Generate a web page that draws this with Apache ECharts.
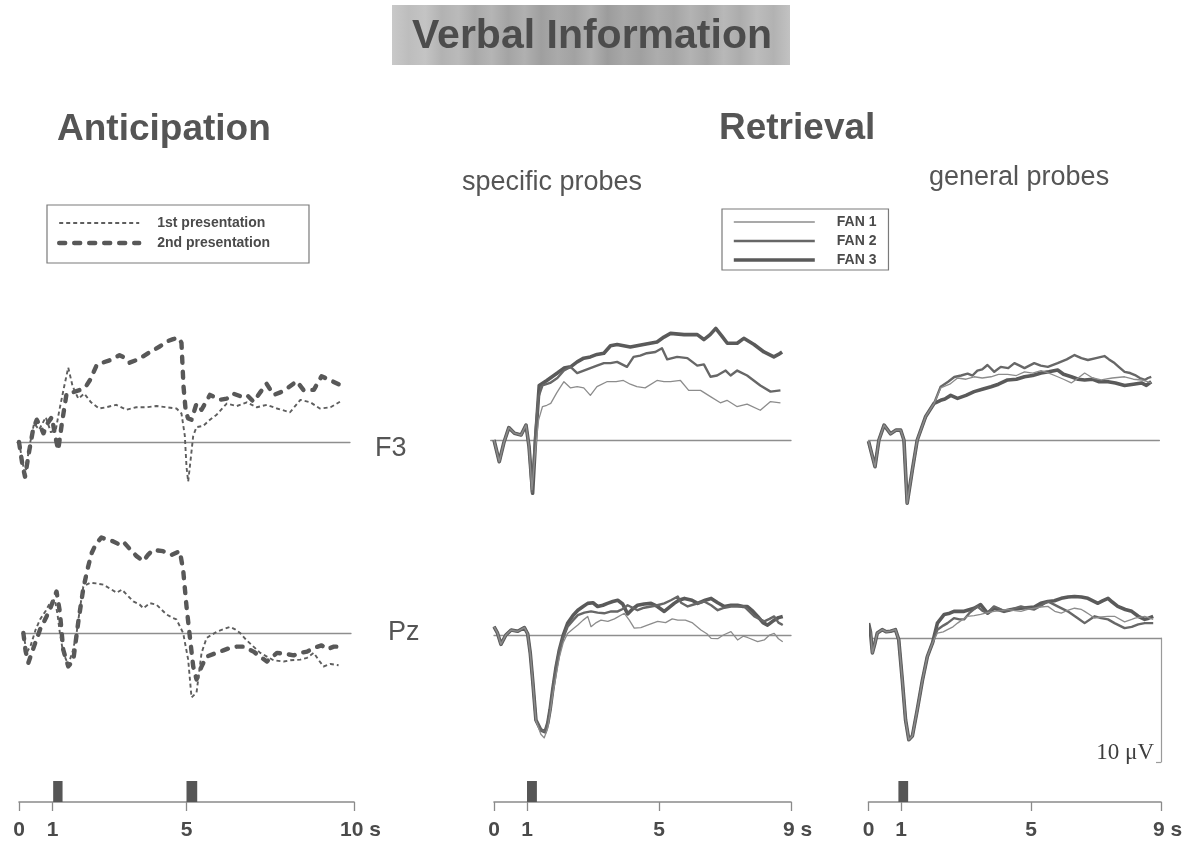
<!DOCTYPE html>
<html>
<head>
<meta charset="utf-8">
<title>Verbal Information</title>
<script src="https://cdn.jsdelivr.net/npm/echarts@6/dist/echarts.min.js"></script>
<style>
  html, body { margin: 0; padding: 0; background: #ffffff; }
  #chart { width: 1191px; height: 844px; }
</style>
</head>
<body>
<div id="chart"></div>
<script>
// ---- Waveforms: [time in s, amplitude in µV] (negative plotted upward) ----

// Anticipation, F3
const antF3First = [[0,0],[0.1,1.5],[0.18,2.8],[0.3,0.5],[0.45,-1.5],[0.6,-1.0],[0.8,-2.0],[0.95,-0.8],[1.1,-1.0],[1.2,-2.5],[1.35,-4.5],[1.47,-6.0],[1.6,-4.5],[1.77,-3.5],[1.95,-3.9],[2.15,-3.2],[2.39,-2.7],[2.6,-2.8],[2.9,-3.0],[3.2,-2.6],[3.5,-2.8],[3.8,-2.8],[4.1,-2.9],[4.4,-2.8],[4.7,-2.7],[4.85,-2.3],[4.95,-0.5],[5.0,2.0],[5.05,3.2],[5.12,1.5],[5.2,-0.5],[5.3,-1.2],[5.5,-1.3],[5.7,-1.8],[5.9,-2.2],[6.2,-3.1],[6.5,-2.9],[6.8,-3.2],[7.1,-2.8],[7.4,-3.0],[7.7,-2.7],[8.09,-2.4],[8.4,-3.4],[8.7,-3.2],[8.98,-2.7],[9.3,-2.8],[9.58,-3.25]];
const antF3Second = [[0,0],[0.1,1.8],[0.18,2.8],[0.3,0.8],[0.42,-1.0],[0.53,-1.8],[0.65,-1.2],[0.73,-0.7],[0.85,-1.5],[0.98,-2.0],[1.08,-0.5],[1.17,0.65],[1.28,-1.5],[1.42,-3.9],[1.6,-4.0],[1.82,-4.2],[2.0,-4.5],[2.12,-5.0],[2.32,-6.2],[2.5,-6.4],[2.72,-6.6],[3.0,-7.0],[3.15,-6.8],[3.3,-6.4],[3.5,-6.6],[3.7,-6.9],[4.0,-7.4],[4.2,-7.7],[4.4,-8.1],[4.6,-8.3],[4.76,-8.4],[4.85,-8.0],[4.91,-4.5],[4.98,-2.4],[5.05,-1.9],[5.15,-1.8],[5.3,-3.1],[5.45,-2.6],[5.7,-3.8],[6.0,-3.4],[6.2,-3.5],[6.4,-3.9],[6.6,-3.7],[6.8,-3.8],[7.0,-3.25],[7.2,-4.0],[7.39,-4.7],[7.6,-3.8],[7.8,-4.0],[7.99,-4.3],[8.29,-4.9],[8.49,-4.2],[8.8,-4.2],[9.03,-5.3],[9.28,-5.0],[9.58,-4.6]];

// Anticipation, Pz
const antPzFirst = [[0.13,0],[0.23,1.6],[0.35,1.0],[0.5,-0.3],[0.63,-1.1],[0.8,-1.8],[0.92,-2.4],[1.07,-2.7],[1.15,-1.5],[1.22,0],[1.32,1.6],[1.47,2.55],[1.6,1.5],[1.72,0],[1.82,-2.0],[1.92,-3.75],[2.12,-4.05],[2.3,-4.0],[2.52,-3.9],[2.7,-3.6],[2.92,-3.25],[3.07,-3.5],[3.25,-3.0],[3.41,-2.55],[3.6,-2.3],[3.71,-2.0],[3.91,-2.4],[4.1,-2.3],[4.25,-1.9],[4.4,-1.5],[4.6,-1.2],[4.7,-1.1],[4.9,0],[5.05,2.15],[5.15,5.2],[5.3,4.8],[5.45,1.6],[5.6,0.4],[5.9,-0.1],[6.1,-0.3],[6.3,-0.5],[6.45,-0.3],[6.6,0],[6.8,0.6],[7.0,1.1],[7.2,1.6],[7.4,1.9],[7.6,2.2],[7.9,2.3],[8.1,2.2],[8.4,2.15],[8.6,2.0],[8.8,1.6],[8.95,2.2],[9.09,2.7],[9.3,2.5],[9.54,2.6]];
const antPzSecond = [[0.13,0],[0.2,1.5],[0.28,2.4],[0.42,1.3],[0.63,-0.3],[0.8,-1.2],[0.92,-1.9],[1.05,-2.8],[1.12,-3.35],[1.22,-1.7],[1.32,1.35],[1.47,2.7],[1.62,2.2],[1.77,-0.9],[1.92,-3.6],[2.05,-5.2],[2.17,-6.45],[2.3,-7.2],[2.46,-7.7],[2.65,-7.5],[2.8,-7.4],[2.95,-7.2],[3.1,-7.4],[3.3,-6.8],[3.51,-6.2],[3.71,-5.8],[3.85,-6.3],[4.0,-6.7],[4.3,-6.6],[4.55,-6.3],[4.8,-6.6],[4.9,-5.1],[5.0,-2.15],[5.1,0.3],[5.2,2.7],[5.3,3.75],[5.45,2.7],[5.6,1.9],[5.9,1.6],[6.1,1.4],[6.3,1.2],[6.5,1.1],[6.7,1.1],[7.0,1.5],[7.2,1.9],[7.4,2.3],[7.7,1.6],[7.99,1.7],[8.2,1.8],[8.4,1.6],[8.6,1.5],[8.8,1.2],[9.03,1.0],[9.2,1.3],[9.4,1.1],[9.54,1.1]];

// Retrieval, specific probes, F3
const specF3Onset = [[0,0],[0.16,1.75],[0.3,0.2],[0.45,-1.0],[0.62,-0.55],[0.82,-0.4],[0.97,-1.2],[1.06,0.5]];
const specF3Fan1 = [[1.15,4.0],[1.25,1.0],[1.35,-1.6],[1.47,-2.7],[1.6,-2.8],[1.72,-2.95],[1.9,-3.8],[2.02,-4.3],[2.12,-4.7],[2.32,-4.2],[2.52,-4.3],[2.72,-4.2],[2.92,-3.6],[3.12,-4.3],[3.42,-4.7],[3.7,-4.7],[3.92,-4.8],[4.13,-4.5],[4.33,-4.3],[4.58,-4.2],[4.94,-4.8],[5.15,-4.7],[5.35,-4.7],[5.65,-4.8],[5.9,-4.0],[6.26,-4.0],[6.56,-3.5],[6.86,-3.0],[7.06,-3.2],[7.36,-2.7],[7.67,-2.9],[8.07,-2.4],[8.38,-3.1],[8.68,-3.0]];
const specF3Fan2 = [[1.15,4.2],[1.25,-0.5],[1.35,-3.5],[1.47,-4.4],[1.7,-4.6],[1.92,-5.0],[2.12,-5.6],[2.32,-5.9],[2.52,-5.4],[2.72,-5.6],[2.92,-5.8],[3.12,-6.0],[3.33,-6.2],[3.53,-6.2],[3.73,-6.3],[4.03,-5.9],[4.23,-6.7],[4.43,-6.8],[4.63,-7.0],[4.89,-7.1],[5.09,-7.4],[5.25,-6.5],[5.55,-6.7],[5.86,-6.6],[6.16,-6.0],[6.36,-6.1],[6.56,-5.1],[6.76,-5.2],[7.02,-5.6],[7.17,-5.2],[7.37,-5.6],[7.67,-5.2],[7.87,-4.8],[8.07,-4.4],[8.38,-3.9],[8.68,-4.0]];
const specF3Fan3 = [[1.17,4.3],[1.27,-0.5],[1.37,-4.4],[1.6,-4.8],[1.92,-5.4],[2.12,-5.8],[2.32,-5.9],[2.52,-6.3],[2.72,-6.6],[2.92,-6.7],[3.12,-6.9],[3.33,-7.0],[3.53,-7.6],[3.73,-7.7],[4.13,-7.5],[4.53,-7.7],[4.94,-7.9],[5.15,-8.3],[5.35,-8.6],[5.76,-8.5],[6.16,-8.5],[6.36,-8.1],[6.55,-8.5],[6.72,-9.0],[6.9,-8.4],[7.07,-7.8],[7.37,-7.8],[7.57,-8.2],[7.88,-7.7],[8.18,-7.1],[8.48,-6.7],[8.62,-6.9],[8.73,-7.1]];

// Retrieval, general probes, F3
const genF3Onset = [[0,0.1],[0.2,2.15],[0.32,0],[0.48,-1.2],[0.68,-0.5],[0.85,-0.8],[0.99,-0.8],[1.09,0],[1.19,5.1],[1.35,2.4],[1.5,0],[1.76,-1.9],[2.02,-2.96]];
const genF3Fan1 = [[2.22,-4.2],[2.5,-4.5],[2.74,-5.0],[3.0,-4.9],[3.25,-5.1],[3.5,-5.0],[3.77,-5.1],[4.0,-5.3],[4.28,-5.3],[4.55,-5.2],[4.8,-5.5],[5.05,-5.4],[5.31,-5.6],[5.55,-5.4],[5.82,-5.1],[6.0,-4.9],[6.24,-4.6],[6.45,-5.0],[6.65,-5.4],[6.9,-5.0],[7.16,-4.84],[7.5,-5.0],[7.88,-5.1],[8.15,-4.9],[8.4,-4.84],[8.7,-4.6]];
const genF3Fan2 = [[2.22,-4.3],[2.45,-4.7],[2.64,-5.08],[2.85,-5.2],[3.05,-5.35],[3.2,-5.2],[3.35,-5.6],[3.5,-5.7],[3.66,-6.05],[3.87,-5.5],[4.07,-5.9],[4.3,-5.8],[4.49,-6.2],[4.65,-6.0],[4.8,-5.8],[4.95,-6.0],[5.1,-6.2],[5.3,-6.0],[5.52,-5.9],[5.82,-6.2],[6.1,-6.5],[6.34,-6.85],[6.55,-6.6],[6.75,-6.45],[7.0,-6.6],[7.26,-6.77],[7.4,-6.5],[7.57,-6.2],[7.7,-5.9],[7.88,-5.5],[8.05,-5.4],[8.2,-5.24],[8.35,-5.0],[8.5,-4.84],[8.6,-5.0],[8.7,-5.1]];
const genF3Fan3 = [[2.22,-3.2],[2.35,-3.3],[2.53,-3.6],[2.74,-3.36],[3.0,-3.6],[3.25,-3.9],[3.5,-4.1],[3.77,-4.3],[4.0,-4.5],[4.28,-4.84],[4.55,-4.9],[4.8,-5.1],[5.05,-5.2],[5.31,-5.4],[5.55,-5.5],[5.82,-5.65],[6.0,-5.3],[6.24,-5.1],[6.45,-4.9],[6.65,-4.84],[6.9,-4.9],[7.1,-4.7],[7.37,-4.7],[7.6,-4.6],[7.88,-4.4],[8.15,-4.5],[8.4,-4.6],[8.55,-4.4],[8.7,-4.7]];

// Retrieval, specific probes, Pz
const specPzOnset = [[0,-0.67],[0.1,-0.2],[0.21,0.75],[0.36,0],[0.52,-0.4],[0.72,-0.3],[0.92,-0.6],[1.02,-0.1],[1.1,1.5],[1.17,3.6]];
const specPzFan1 = [[1.27,6.9],[1.42,8.0],[1.52,8.3],[1.63,7.5],[1.78,4.8],[1.98,1.8],[2.1,0.6],[2.23,-0.13],[2.4,-0.5],[2.54,-0.8],[2.7,-1.2],[2.84,-1.5],[2.94,-0.67],[3.1,-1.0],[3.24,-1.2],[3.45,-1.1],[3.65,-1.3],[3.95,-1.75],[4.1,-1.2],[4.25,-0.55],[4.45,-0.6],[4.65,-0.8],[4.96,-1.1],[5.2,-1.0],[5.4,-1.3],[5.57,-1.2],[5.8,-1.2],[6.0,-1.0],[6.27,-0.4],[6.45,-0.1],[6.58,0.27],[6.78,0.3],[6.95,0],[7.18,-0.27],[7.38,0.4],[7.55,0.1],[7.68,0.2],[7.99,0.54],[8.19,0.4],[8.35,0.0],[8.49,-0.13],[8.62,0.3],[8.75,0.54]];
const specPzFan2 = [[1.27,6.85],[1.42,7.66],[1.55,7.8],[1.63,7.1],[1.7,6.0],[1.78,4.4],[1.88,2.6],[1.98,1.2],[2.1,0.2],[2.23,-0.67],[2.4,-1.2],[2.54,-1.6],[2.74,-1.8],[2.94,-1.9],[3.14,-1.8],[3.34,-1.75],[3.55,-1.9],[3.75,-1.9],[3.9,-2.1],[4.05,-2.4],[4.2,-2.2],[4.35,-2.0],[4.55,-2.2],[4.76,-2.3],[4.95,-2.4],[5.16,-2.55],[5.36,-2.8],[5.57,-3.1],[5.67,-2.6],[5.87,-2.3],[6.1,-2.5],[6.37,-2.7],[6.58,-2.4],[6.78,-2.0],[6.98,-2.2],[7.18,-2.3],[7.38,-2.3],[7.58,-2.3],[7.89,-1.5],[8.19,-1.1],[8.35,-1.3],[8.49,-1.5],[8.62,-1.0],[8.75,-0.8]];
const specPzFan3 = [[1.27,6.85],[1.42,7.66],[1.55,7.8],[1.63,7.1],[1.7,6.0],[1.78,4.4],[1.88,2.6],[1.98,1.2],[2.1,0.0],[2.23,-0.94],[2.4,-1.6],[2.54,-2.0],[2.7,-2.3],[2.84,-2.55],[3.0,-2.6],[3.14,-2.3],[3.3,-2.4],[3.44,-2.55],[3.6,-2.7],[3.75,-2.8],[3.9,-2.5],[4.05,-1.7],[4.2,-2.1],[4.35,-2.4],[4.55,-2.5],[4.76,-2.55],[4.95,-2.3],[5.16,-1.9],[5.3,-2.2],[5.46,-2.55],[5.6,-2.8],[5.77,-2.95],[6.0,-2.8],[6.17,-2.55],[6.4,-2.8],[6.58,-2.95],[6.78,-2.6],[6.98,-2.3],[7.18,-2.4],[7.38,-2.4],[7.55,-2.3],[7.68,-2.3],[7.85,-1.9],[7.99,-1.5],[8.15,-1.0],[8.29,-0.8],[8.49,-1.2],[8.62,-1.4],[8.75,-1.5]];

// Retrieval, general probes, Pz
const genPzOnset = [[0,-1.2],[0.06,-0.5],[0.12,1.2],[0.2,0.4],[0.27,-0.4],[0.42,-0.67],[0.55,-0.5],[0.68,-0.55],[0.83,-0.67],[0.93,0.13],[1.04,3.4],[1.14,6.6],[1.24,8.2],[1.35,7.9],[1.5,5.8],[1.66,3.4],[1.81,1.5],[1.97,0.4]];
const genPzFan1 = [[2.12,-0.4],[2.3,-0.5],[2.43,-0.67],[2.6,-0.9],[2.74,-1.2],[2.9,-1.5],[3.04,-1.75],[3.25,-1.8],[3.45,-1.9],[3.6,-2.0],[3.86,-2.15],[4.1,-2.2],[4.27,-2.3],[4.5,-2.2],[4.69,-2.15],[4.9,-2.3],[5.1,-2.4],[5.3,-2.5],[5.52,-2.55],[5.73,-2.15],[5.93,-2.0],[6.1,-2.2],[6.34,-2.4],[6.55,-2.3],[6.65,-2.15],[6.8,-1.9],[6.96,-1.6],[7.16,-1.7],[7.37,-1.75],[7.57,-1.75],[7.88,-1.3],[8.1,-1.5],[8.2,-1.6],[8.5,-1.75],[8.76,-1.5]];
const genPzFan2 = [[2.12,-0.67],[2.3,-1.0],[2.43,-1.2],[2.63,-1.6],[2.8,-1.5],[2.94,-1.5],[3.1,-2.0],[3.35,-2.55],[3.5,-2.2],[3.66,-2.0],[3.86,-2.55],[4.0,-2.4],[4.17,-2.15],[4.4,-2.3],[4.69,-2.55],[4.9,-2.4],[5.1,-2.3],[5.3,-2.6],[5.52,-2.95],[5.82,-2.55],[6.13,-2.15],[6.44,-1.6],[6.65,-1.2],[6.96,-1.75],[7.16,-1.6],[7.37,-1.5],[7.57,-1.2],[7.88,-0.8],[8.1,-0.9],[8.3,-1.1],[8.5,-1.2],[8.76,-1.2]];
const genPzFan3 = [[2.12,-1.2],[2.33,-1.9],[2.5,-2.0],[2.63,-2.15],[2.94,-2.15],[3.25,-2.4],[3.45,-2.7],[3.66,-2.0],[3.86,-2.4],[4.17,-2.15],[4.4,-2.3],[4.69,-2.4],[5.1,-2.5],[5.3,-2.8],[5.52,-2.95],[5.72,-3.0],[5.93,-3.2],[6.14,-3.3],[6.34,-3.35],[6.55,-3.3],[6.75,-3.2],[7.06,-2.8],[7.2,-3.0],[7.37,-3.2],[7.5,-2.9],[7.67,-2.55],[7.9,-2.3],[8.1,-2.15],[8.3,-1.75],[8.5,-1.5],[8.62,-1.6],[8.76,-1.75]];

// Stimulus presentations [start s, end s] and time-axis tick labels
const stimAnticipation = [[1.02, 1.3], [5.0, 5.32]];
const stimSpecific = [[1.0, 1.3]];
const stimGeneral = [[0.92, 1.22]];
const ticksAnticipation = [0, 1, 5, 10];
const ticksRetrieval = [0, 1, 5, 9];
const scaleBarValue = 10; // µV

// ---- Layout ----
const PX_PER_UV = 12.4;
const FONT = 'Liberation Sans, Arial, sans-serif';
const INK = '#555555';

// time origin (px), px per second, visible baseline span, baseline y, panel top/bottom
const panels = [
  { x0: 19,    pps: 33.5, tMin: -0.06, tMax: 9.88, base: 442, top: 310, bottom: 505 },
  { x0: 19,    pps: 33.5, tMin: 0.09,  tMax: 9.91, base: 633, top: 515, bottom: 720 },
  { x0: 494,   pps: 33,   tMin: -0.1,  tMax: 9.0,  base: 440, top: 300, bottom: 510 },
  { x0: 868.5, pps: 32.5, tMin: 0.0,   tMax: 8.95, base: 440, top: 300, bottom: 510 },
  { x0: 494,   pps: 33,   tMin: 0.0,   tMax: 9.0,  base: 635, top: 570, bottom: 760 },
  { x0: 868.5, pps: 32.5, tMin: 0.1,   tMax: 9.0,  base: 638, top: 570, bottom: 762 }
];
const timelines = [
  { x0: 19,    pps: 33.5, tMax: 10, ticks: ticksAnticipation, stim: stimAnticipation },
  { x0: 494,   pps: 33,   tMax: 9,  ticks: ticksRetrieval,    stim: stimSpecific },
  { x0: 868.5, pps: 32.5, tMax: 9,  ticks: ticksRetrieval,    stim: stimGeneral }
];
const TL_TOP = 781, TL_AXIS = 802;

const grids = [], xAxes = [], yAxes = [], series = [];

panels.forEach(p => {
  grids.push({
    left: p.x0 + p.tMin * p.pps, width: (p.tMax - p.tMin) * p.pps,
    top: p.top, height: p.bottom - p.top, outerBoundsMode: 'none'
  });
  xAxes.push({
    gridIndex: grids.length - 1, type: 'value', min: p.tMin, max: p.tMax,
    axisLine: { show: true, onZero: true, lineStyle: { color: '#8e8e8e', width: 1.3 } },
    axisTick: { show: false }, axisLabel: { show: false }, splitLine: { show: false }
  });
  yAxes.push({
    gridIndex: grids.length - 1, type: 'value', inverse: true,
    min: -(p.base - p.top) / PX_PER_UV, max: (p.bottom - p.base) / PX_PER_UV,
    show: false, splitLine: { show: false }
  });
});

timelines.forEach(t => {
  grids.push({ left: t.x0, width: t.tMax * t.pps, top: TL_TOP, height: TL_AXIS - TL_TOP, outerBoundsMode: 'none' });
  const last = t.ticks[t.ticks.length - 1];
  xAxes.push({
    gridIndex: grids.length - 1, type: 'value', min: 0, max: t.tMax,
    axisLine: { show: true, onZero: false, lineStyle: { color: '#8a8a8a', width: 1.6 } },
    axisTick: { show: true, customValues: t.ticks, length: 9, lineStyle: { color: '#8a8a8a', width: 1.3 } },
    axisLabel: {
      show: true, customValues: t.ticks, margin: 18,
      color: '#4a4a4a', fontFamily: FONT, fontWeight: 'bold', fontSize: 21,
      formatter: v => (v === last ? '{pad| }' + v + ' s' : String(v)),
      rich: { pad: { width: 13, fontSize: 21 } }
    },
    splitLine: { show: false }
  });
  yAxes.push({ gridIndex: grids.length - 1, type: 'value', min: 0, max: 1, show: false });
  series.push({
    type: 'custom', xAxisIndex: grids.length - 1, yAxisIndex: grids.length - 1,
    data: t.stim, encode: { x: [0, 1] }, silent: true,
    renderItem: (params, api) => {
      const a = api.coord([api.value(0), 1]);
      const b = api.coord([api.value(1), 0]);
      return { type: 'rect', shape: { x: a[0], y: a[1], width: b[0] - a[0], height: b[1] - a[1] }, style: { fill: '#565656' } };
    }
  });
});

// 10 µV calibration bar at the right end of the general-probes Pz baseline
grids.push({ left: 1100, right: 30, top: 638, height: scaleBarValue * PX_PER_UV, outerBoundsMode: 'none' });
xAxes.push({ gridIndex: grids.length - 1, type: 'value', min: 0, max: 1, show: false });
yAxes.push({
  gridIndex: grids.length - 1, type: 'value', position: 'right', inverse: true, min: 0, max: scaleBarValue,
  axisLine: { show: true, onZero: false, lineStyle: { color: '#9a9a9a', width: 1.2 } },
  axisTick: { show: true, inside: true, length: 5, customValues: [scaleBarValue], lineStyle: { color: '#9a9a9a', width: 1.2 } },
  axisLabel: {
    show: true, inside: true, margin: 7, customValues: [scaleBarValue], verticalAlign: 'bottom', lineHeight: 18,
    formatter: v => v + ' \u03bcV', fontFamily: 'Liberation Serif, Times New Roman, serif', fontSize: 23, color: '#3e3e3e'
  },
  splitLine: { show: false }
});

// ---- Line series ----
const styles = {
  '1st presentation': { color: '#5e5e5e', width: 1.9, type: [4, 3], cap: 'butt' },
  '2nd presentation': { color: '#585858', width: 4.4, type: [6, 9], cap: 'round' },
  'FAN 1': { color: '#8c8c8c', width: 1.3, type: 'solid', cap: 'butt' },
  'FAN 2': { color: '#676767', width: 2.4, type: 'solid', cap: 'butt' },
  'FAN 3': { color: '#5a5a5a', width: 3.6, type: 'solid', cap: 'butt' }
};
function addLine(name, gridIdx, data, z) {
  const s = styles[name];
  series.push({
    name, type: 'line', xAxisIndex: gridIdx, yAxisIndex: gridIdx, data,
    symbol: 'none', showSymbol: false, clip: false, z,
    lineStyle: { color: s.color, width: s.width, type: s.type, cap: s.cap, join: 'round' },
    itemStyle: { color: s.color }, emphasis: { disabled: true }
  });
}
addLine('1st presentation', 0, antF3First, 3);
addLine('2nd presentation', 0, antF3Second, 2);
addLine('1st presentation', 1, antPzFirst, 3);
addLine('2nd presentation', 1, antPzSecond, 2);
addLine('FAN 3', 2, specF3Onset.concat(specF3Fan3), 2);
addLine('FAN 2', 2, specF3Onset.concat(specF3Fan2), 3);
addLine('FAN 1', 2, specF3Onset.concat(specF3Fan1), 4);
addLine('FAN 3', 3, genF3Onset.concat(genF3Fan3), 2);
addLine('FAN 2', 3, genF3Onset.concat(genF3Fan2), 3);
addLine('FAN 1', 3, genF3Onset.concat(genF3Fan1), 4);
addLine('FAN 3', 4, specPzOnset.concat(specPzFan3), 2);
addLine('FAN 2', 4, specPzOnset.concat(specPzFan2), 3);
addLine('FAN 1', 4, specPzOnset.concat(specPzFan1), 4);
addLine('FAN 3', 5, genPzOnset.concat(genPzFan3), 2);
addLine('FAN 2', 5, genPzOnset.concat(genPzFan2), 3);
addLine('FAN 1', 5, genPzOnset.concat(genPzFan1), 4);

// ---- Headings ----
const bannerStops = ['#c9c9c9','#bdbdbd','#c4c4c4','#b2b2b2','#bababa','#a9a9a9','#b5b5b5','#a4a4a4','#b0b0b0','#9f9f9f','#aaaaaa','#a2a2a2','#b1b1b1','#9c9c9c','#a8a8a8','#a0a0a0','#adadad','#a5a5a5','#b3b3b3','#a7a7a7','#b8b8b8','#acacac','#bcbcbc','#b2b2b2','#c2c2c2'];
const bannerFill = {
  type: 'linear', x: 0, y: 0, x2: 1, y2: 0,
  colorStops: bannerStops.map((c, i) => ({ offset: i / (bannerStops.length - 1), color: c }))
};
function label(text, x, y, size, weight, align) {
  return {
    type: 'text', x, y, silent: true,
    style: { text, fill: INK, fontFamily: FONT, fontSize: size, fontWeight: weight, align: align || 'left', verticalAlign: 'middle' }
  };
}

const legendText = { fontFamily: FONT, fontWeight: 'bold', fontSize: 14, color: '#4a4a4a' };

const option = {
  animation: false,
  backgroundColor: '#ffffff',
  textStyle: { fontFamily: FONT },
  grid: grids, xAxis: xAxes, yAxis: yAxes, series,
  legend: [
    {
      data: ['1st presentation', '2nd presentation'], orient: 'vertical',
      left: 47, top: 205, padding: [11, 39, 13, 10], itemWidth: 80, itemHeight: 14, itemGap: 6,
      borderColor: '#7a7a7a', borderWidth: 1.2, selectedMode: false,
      itemStyle: { opacity: 0 }, lineStyle: { width: 'inherit', type: 'inherit' },
      textStyle: Object.assign({ padding: [0, 0, 0, 13] }, legendText)
    },
    {
      data: ['FAN 1', 'FAN 2', 'FAN 3'], orient: 'vertical',
      left: 722, top: 209, padding: [6, 12, 3, 10], itemWidth: 81, itemHeight: 14, itemGap: 5,
      borderColor: '#7a7a7a', borderWidth: 1.2, selectedMode: false,
      itemStyle: { opacity: 0 }, lineStyle: { width: 'inherit', type: 'inherit' },
      textStyle: Object.assign({ padding: [0, 0, 0, 17] }, legendText)
    }
  ],
  graphic: [
    { type: 'rect', shape: { x: 392, y: 5, width: 398, height: 60 }, style: { fill: bannerFill }, silent: true, z: 0 },
    {
      type: 'text', x: 592, y: 37, silent: true, z: 1,
      style: { text: 'Verbal Information', fill: '#4c4c4c', fontFamily: FONT, fontSize: 41, fontWeight: 'bold', align: 'center', verticalAlign: 'middle' }
    },
    label('Anticipation', 57, 130, 37, 'bold'),
    label('Retrieval', 719, 129, 37, 'bold'),
    label('specific probes', 462, 183, 27, 'normal'),
    label('general probes', 929, 178, 27, 'normal'),
    label('F3', 375, 449, 27, 'normal'),
    label('Pz', 388, 633, 27, 'normal')
  ]
};

const chart = echarts.init(document.getElementById('chart'), null, { renderer: 'canvas' });
chart.setOption(option);
</script>
</body>
</html>
